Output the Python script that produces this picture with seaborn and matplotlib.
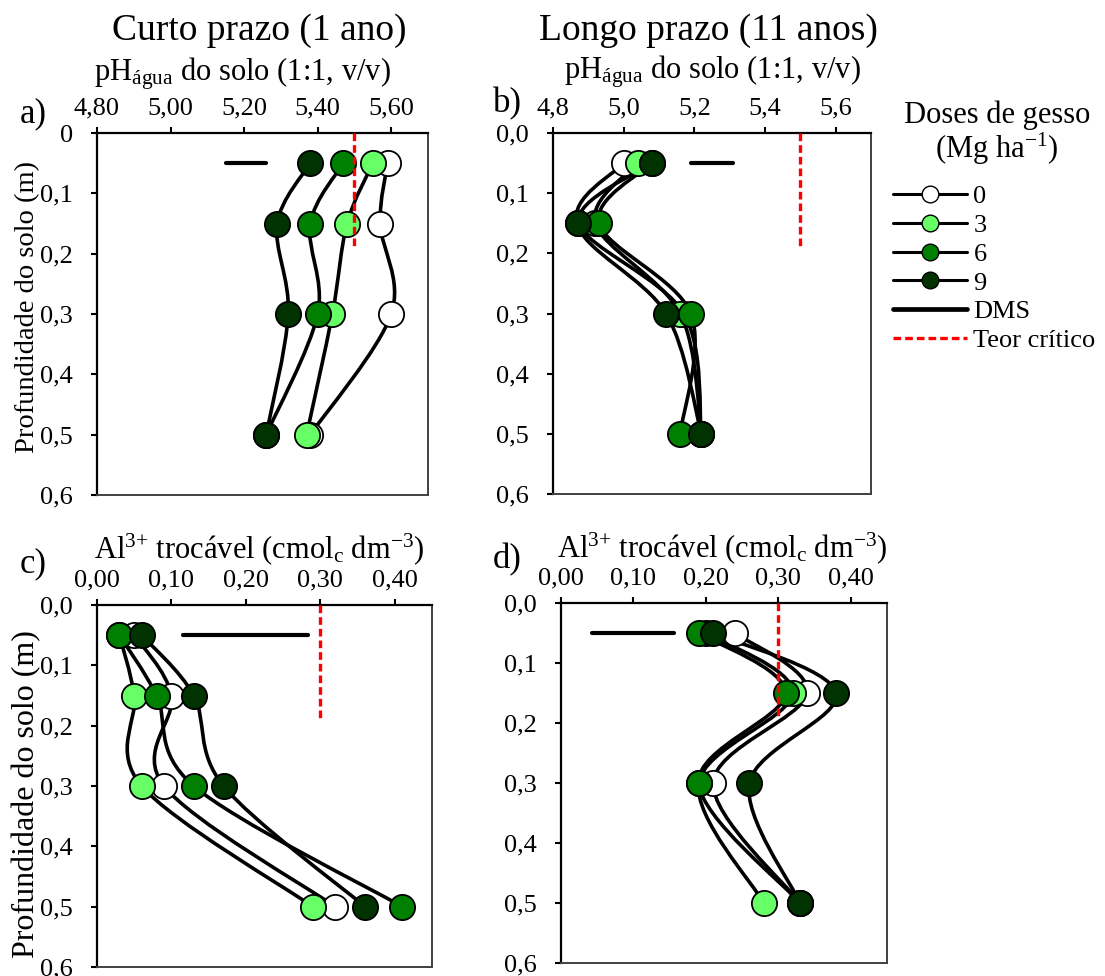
import numpy as np
import pandas as pd
import matplotlib
matplotlib.use("Agg")
import matplotlib.pyplot as plt
from matplotlib.path import Path
from matplotlib.patches import PathPatch
from matplotlib.lines import Line2D
import seaborn as sns

# ---- data -------------------------------------------------------------
depths = [0.05, 0.15, 0.30, 0.50]
dose_labels = ["0", "3", "6", "9"]
dose_colors = ["#FFFFFF", "#66FF66", "#008000", "#003300"]

# pH em água - curto prazo (1 ano)
ph_short_0 = [5.59, 5.57, 5.60, 5.38]
ph_short_3 = [5.55, 5.48, 5.44, 5.37]
ph_short_6 = [5.47, 5.38, 5.40, 5.26]
ph_short_9 = [5.38, 5.29, 5.32, 5.26]

# pH em água - longo prazo (11 anos)
ph_long_0 = [5.00, 4.87, 5.17, 5.22]
ph_long_3 = [5.04, 4.92, 5.16, 5.22]
ph_long_6 = [5.08, 4.93, 5.19, 5.16]
ph_long_9 = [5.08, 4.87, 5.12, 5.22]

# Al trocável - curto prazo
al_short_0 = [0.05, 0.10, 0.09, 0.32]
al_short_3 = [0.03, 0.05, 0.06, 0.29]
al_short_6 = [0.03, 0.08, 0.13, 0.41]
al_short_9 = [0.06, 0.13, 0.17, 0.36]

# Al trocável - longo prazo
al_long_0 = [0.24, 0.34, 0.21, 0.33]
al_long_3 = [0.20, 0.32, 0.19, 0.28]
al_long_6 = [0.19, 0.31, 0.19, 0.33]
al_long_9 = [0.21, 0.38, 0.26, 0.33]

# DMS bars (start, end) drawn at 0.05 m
dms_ph_short = [5.15, 5.26]
dms_ph_long = [5.19, 5.31]
dms_al_short = [0.115, 0.284]
dms_al_long = [0.043, 0.156]
dms_depth = 0.05

# critical levels
crit_ph = 5.5
crit_al = 0.30
crit_depths = [0.0, 0.19]

# axis ticks
ph2_ticks = [4.8, 5.0, 5.2, 5.4, 5.6]
ph2_ticklabels = ["4,80", "5,00", "5,20", "5,40", "5,60"]
ph1_ticklabels = ["4,8", "5,0", "5,2", "5,4", "5,6"]
al_ticks = [0.0, 0.1, 0.2, 0.3, 0.4]
al_ticklabels = ["0,00", "0,10", "0,20", "0,30", "0,40"]
depth_ticks = [0.0, 0.1, 0.2, 0.3, 0.4, 0.5, 0.6]
depth_ticklabels_a = ["0", "0,1", "0,2", "0,3", "0,4", "0,5", "0,6"]
depth_ticklabels = ["0,0", "0,1", "0,2", "0,3", "0,4", "0,5", "0,6"]

# ---- style ------------------------------------------------------------
sns.set_theme(style="white")
plt.rcParams["font.family"] = ["Liberation Serif", "DejaVu Serif"]
plt.rcParams["mathtext.fontset"] = "custom"
plt.rcParams["mathtext.rm"] = "Liberation Serif"
plt.rcParams["mathtext.it"] = "Liberation Serif:italic"
plt.rcParams["mathtext.bf"] = "Liberation Serif:bold"
for key in ["text.color", "axes.labelcolor", "xtick.color", "ytick.color"]:
    plt.rcParams[key] = "black"

TICK_FS = 19
LINE_W = 2.6


def smooth_path(xs, ys):
    """Cubic Bezier path through the points (Catmull-Rom style smoothing)."""
    pts = np.column_stack([xs, ys]).astype(float)
    n = len(pts)
    verts = [pts[0]]
    codes = [Path.MOVETO]
    for i in range(n - 1):
        p0 = pts[i - 1] if i > 0 else pts[i]
        p1 = pts[i]
        p2 = pts[i + 1]
        p3 = pts[i + 2] if i + 2 < n else pts[i + 1]
        c1 = p1 + (p2 - p0) / 6.0
        c2 = p2 - (p3 - p1) / 6.0
        verts += [c1, c2, p2]
        codes += [Path.CURVE4] * 3
    return Path(verts, codes)


def draw_panel(ax, series, xlim, xticks, xticklabels, yticklabels, dms, crit):
    # smoothed profiles
    for vals in series:
        ax.add_patch(PathPatch(smooth_path(vals, depths), fill=False,
                               edgecolor="black", lw=LINE_W, zorder=3,
                               capstyle="round", joinstyle="round"))
    # markers
    for vals, lab, col in zip(series, dose_labels, dose_colors):
        df = pd.DataFrame({"valor": vals, "prof": depths})
        sns.scatterplot(data=df, x="valor", y="prof", ax=ax, s=330,
                        color=col, edgecolor="black", linewidth=1.3,
                        zorder=4, legend=False)
    # DMS bar
    sns.lineplot(x=dms, y=[dms_depth, dms_depth], ax=ax, color="black",
                 lw=3.0, sort=False, estimator=None, zorder=2)
    # critical level
    ax.plot([crit, crit], crit_depths, color="#FF0000", lw=2.4,
            dashes=(2.3, 1.2), zorder=5)

    ax.set_xlim(*xlim)
    ax.set_ylim(0.6, 0.0)
    ax.set_xlabel("")
    ax.set_ylabel("")
    ax.xaxis.tick_top()
    ax.set_xticks(xticks)
    ax.set_xticklabels(xticklabels, fontsize=TICK_FS)
    ax.set_yticks(depth_ticks)
    ax.set_yticklabels(yticklabels, fontsize=TICK_FS)
    ax.tick_params(axis="x", which="both", top=True, bottom=False,
                   labeltop=True, labelbottom=False, direction="out",
                   length=4, width=1.5, pad=6, colors="black")
    ax.tick_params(axis="y", direction="out", length=4.5, width=1.5,
                   pad=13, colors="black", left=True)
    for side in ["top", "left"]:
        ax.spines[side].set_color("black")
        ax.spines[side].set_linewidth(1.6)
    for side in ["right", "bottom"]:
        ax.spines[side].set_color("#404040")
        ax.spines[side].set_linewidth(1.4)
    for sp in ax.spines.values():
        sp.set_visible(True)


fig = plt.figure(figsize=(11.05, 9.76), dpi=100)
W, H = 1105.0, 976.0


def add_axes_px(left, top, right, bottom):
    return fig.add_axes([left / W, 1 - bottom / H, (right - left) / W,
                         (bottom - top) / H])


ax_a = add_axes_px(97, 133, 428, 495)
ax_b = add_axes_px(553, 133, 871, 494)
ax_c = add_axes_px(97, 605, 432, 967)
ax_d = add_axes_px(561, 603, 887, 963)

draw_panel(ax_a, [ph_short_0, ph_short_3, ph_short_6, ph_short_9],
           (4.8, 5.7), ph2_ticks, ph2_ticklabels, depth_ticklabels_a,
           dms_ph_short, crit_ph)
draw_panel(ax_b, [ph_long_0, ph_long_3, ph_long_6, ph_long_9],
           (4.8, 5.7), ph2_ticks, ph1_ticklabels, depth_ticklabels,
           dms_ph_long, crit_ph)
draw_panel(ax_c, [al_short_0, al_short_3, al_short_6, al_short_9],
           (0.0, 0.45), al_ticks, al_ticklabels, depth_ticklabels,
           dms_al_short, crit_al)
draw_panel(ax_d, [al_long_0, al_long_3, al_long_6, al_long_9],
           (0.0, 0.45), al_ticks, al_ticklabels, depth_ticklabels,
           dms_al_long, crit_al)

# axis titles above the top axes
ph_label = r"pH$_{\mathrm{água}}$ do solo (1:1, v/v)"
al_label = r"Al$^{3{+}}$ trocável (cmol$_{\mathrm{c}}$ dm$^{-3}$)"
LABEL_FS = 22
ax_a.text(0.44, 1.146, ph_label, transform=ax_a.transAxes, ha="center",
          va="baseline", fontsize=LABEL_FS)
ax_b.text(0.50, 1.152, ph_label, transform=ax_b.transAxes, ha="center",
          va="baseline", fontsize=LABEL_FS)
ax_c.text(0.485, 1.13, al_label, transform=ax_c.transAxes, ha="center",
          va="baseline", fontsize=LABEL_FS)
ax_d.text(0.495, 1.128, al_label, transform=ax_d.transAxes, ha="center",
          va="baseline", fontsize=LABEL_FS)

# depth axis labels
ax_a.text(-0.21, 0.52, "Profundidade do solo (m)", transform=ax_a.transAxes,
          rotation=90, ha="center", va="center", fontsize=20.5)
ax_c.text(-0.21, 0.478, "Profundidade do solo (m)", transform=ax_c.transAxes,
          rotation=90, ha="center", va="center", fontsize=23)

# column titles
fig.text(259 / W, 1 - 40 / H, "Curto prazo (1 ano)", ha="center",
         va="baseline", fontsize=27)
fig.text(708 / W, 1 - 40 / H, "Longo prazo (11 anos)", ha="center",
         va="baseline", fontsize=27)

# panel letters
for x, y, s in [(20, 122, "a)"), (493, 112, "b)"), (20, 572, "c)"),
                (493, 568, "d)")]:
    fig.text(x / W, 1 - y / H, s, ha="left", va="baseline", fontsize=25)

# legend
fig.text(997 / W, 1 - 123 / H, "Doses de gesso", ha="center",
         va="baseline", fontsize=22)
fig.text(997 / W, 1 - 158 / H, r"(Mg ha$^{\mathrm{-1}}$)", ha="center",
         va="baseline", fontsize=22)

handles = [Line2D([0], [0], color="black", lw=2.2, marker="o",
                  markersize=12, markerfacecolor=c, markeredgecolor="black",
                  markeredgewidth=1.0) for c in dose_colors]
handles.append(Line2D([0], [0], color="black", lw=3.4))
handles.append(Line2D([0], [0], color="#FF0000", lw=2.4, dashes=(2.3, 1.2)))
labels = dose_labels + ["DMS", "Teor crítico"]
fig.legend(handles, labels, loc="upper left",
           bbox_to_anchor=(893 / W, 1 - 185 / H), frameon=False,
           fontsize=19, handlelength=2.8, handletextpad=0.25,
           labelspacing=0.2, borderpad=0, borderaxespad=0)

fig.savefig("out.png", dpi=100, facecolor="white")
